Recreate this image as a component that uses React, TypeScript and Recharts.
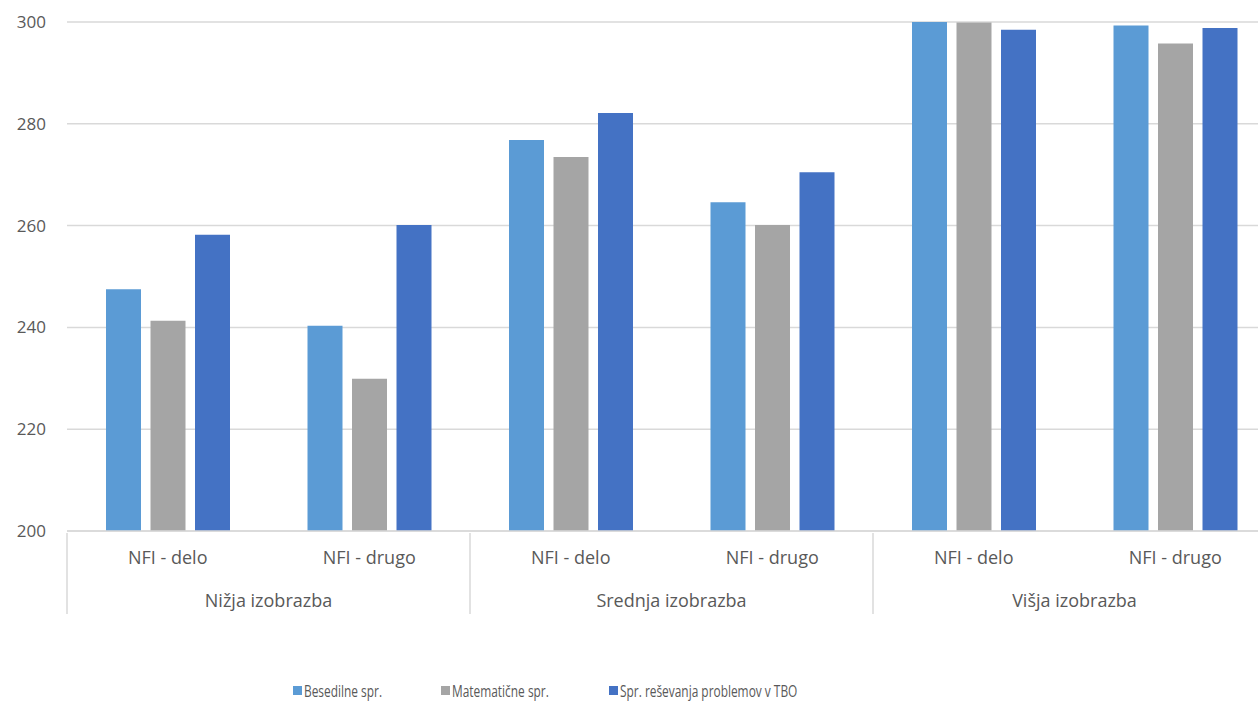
import React from "react";
import {
  Bar,
  BarChart,
  CartesianGrid,
  Legend,
  XAxis,
  YAxis,
} from "recharts";

const groups = [
  "Nižja izobrazba",
  "Nižja izobrazba",
  "Srednja izobrazba",
  "Srednja izobrazba",
  "Višja izobrazba",
  "Višja izobrazba",
];
const subs = [
  "NFI - delo",
  "NFI - drugo",
  "NFI - delo",
  "NFI - drugo",
  "NFI - delo",
  "NFI - drugo",
];

const besedilne = [247.5, 240.3, 276.8, 264.6, 300.0, 299.3];
const matematicne = [241.3, 229.9, 273.5, 260.1, 299.9, 295.8];
const tbo = [258.2, 260.1, 282.1, 270.5, 298.5, 298.8];

const yTicks = [200, 220, 240, 260, 280, 300];

const seriesNames = [
  "Besedilne spr.",
  "Matematične spr.",
  "Spr. reševanja problemov v TBO",
];

const COLORS = ["#5b9bd5", "#a5a5a5", "#4472c4"];
const TEXT = "#595959";
const LINE = "#d9d9d9";
const FONT = "'Open Sans', sans-serif";

const W = 1258;
const H = 708;
const PLOT_LEFT = 67;
// the plot runs a little past the right edge of the picture
const RIGHT = -18;
const CAT_W = (W - PLOT_LEFT - RIGHT) / subs.length;

const data = subs.map((sub, i) => ({
  sub,
  group: groups[i],
  b: besedilne[i],
  m: matematicne[i],
  t: tbo[i],
}));

function SubTick(props: any) {
  const { x, y, payload } = props;
  return (
    <text
      x={x}
      y={y + 24}
      textAnchor="middle"
      dominantBaseline="central"
      fill={TEXT}
      fontSize={18}
      fontFamily={FONT}
    >
      {payload.value}
    </text>
  );
}

function GroupTick(props: any) {
  const { x, y, payload, index } = props;
  if (index % 2 !== 0) return <g />;
  const left = x - CAT_W / 2;
  return (
    <g>
      <line x1={left} x2={left} y1={y - 40} y2={y + 41} stroke={LINE} strokeWidth={1.5} />
      <text
        x={x + CAT_W / 2}
        y={y + 27}
        textAnchor="middle"
        dominantBaseline="central"
        fill={TEXT}
        fontSize={18}
        fontFamily={FONT}
      >
        {payload.value}
      </text>
    </g>
  );
}

const legendLeft = [293, 441, 609];

function LegendContent() {
  return (
    <div style={{ position: "relative", height: 20, width: W }}>
      {seriesNames.map((name, i) => (
        <div
          key={name}
          style={{
            position: "absolute",
            left: legendLeft[i],
            top: 0,
            height: 20,
            display: "flex",
            alignItems: "center",
            whiteSpace: "nowrap",
          }}
        >
          <span
            style={{
              display: "inline-block",
              width: 9,
              height: 9,
              background: COLORS[i],
              marginRight: 2,
            }}
          />
          <span
            style={{
              display: "inline-block",
              fontFamily: FONT,
              fontSize: 17,
              color: TEXT,
              transform: "scaleX(0.7)",
              transformOrigin: "left center",
            }}
          >
            {name}
          </span>
        </div>
      ))}
    </div>
  );
}

export default function App() {
  return (
    <div style={{ position: "absolute", left: 0, top: 0, width: W, height: H, background: "#fff", overflow: "hidden" }}>
      <BarChart
        width={W}
        height={H}
        data={data}
        margin={{ top: 22, right: RIGHT, left: 0, bottom: 76 }}
        barGap={9.5}
        barSize={35}
      >
        <CartesianGrid vertical={false} stroke={LINE} strokeWidth={1.5} />
        <YAxis
          width={PLOT_LEFT}
          domain={[200, 300]}
          ticks={yTicks}
          allowDataOverflow
          axisLine={false}
          tickLine={false}
          tickSize={0}
          tickMargin={21}
          tick={{ fill: TEXT, fontSize: 17, fontFamily: FONT }}
        />
        <XAxis
          dataKey="sub"
          interval={0}
          height={40}
          tickLine={false}
          tickSize={0}
          axisLine={{ stroke: LINE, strokeWidth: 1.5 }}
          tick={<SubTick />}
        />
        <XAxis
          xAxisId="grp"
          dataKey="group"
          interval={0}
          height={41}
          tickLine={false}
          tickSize={0}
          axisLine={false}
          tick={<GroupTick />}
        />
        <Legend
          verticalAlign="bottom"
          wrapperStyle={{ left: 0, bottom: 8, width: W }}
          content={<LegendContent />}
        />
        <Bar dataKey="b" name={seriesNames[0]} fill={COLORS[0]} isAnimationActive={false} />
        <Bar dataKey="m" name={seriesNames[1]} fill={COLORS[1]} isAnimationActive={false} />
        <Bar dataKey="t" name={seriesNames[2]} fill={COLORS[2]} isAnimationActive={false} />
      </BarChart>
    </div>
  );
}
